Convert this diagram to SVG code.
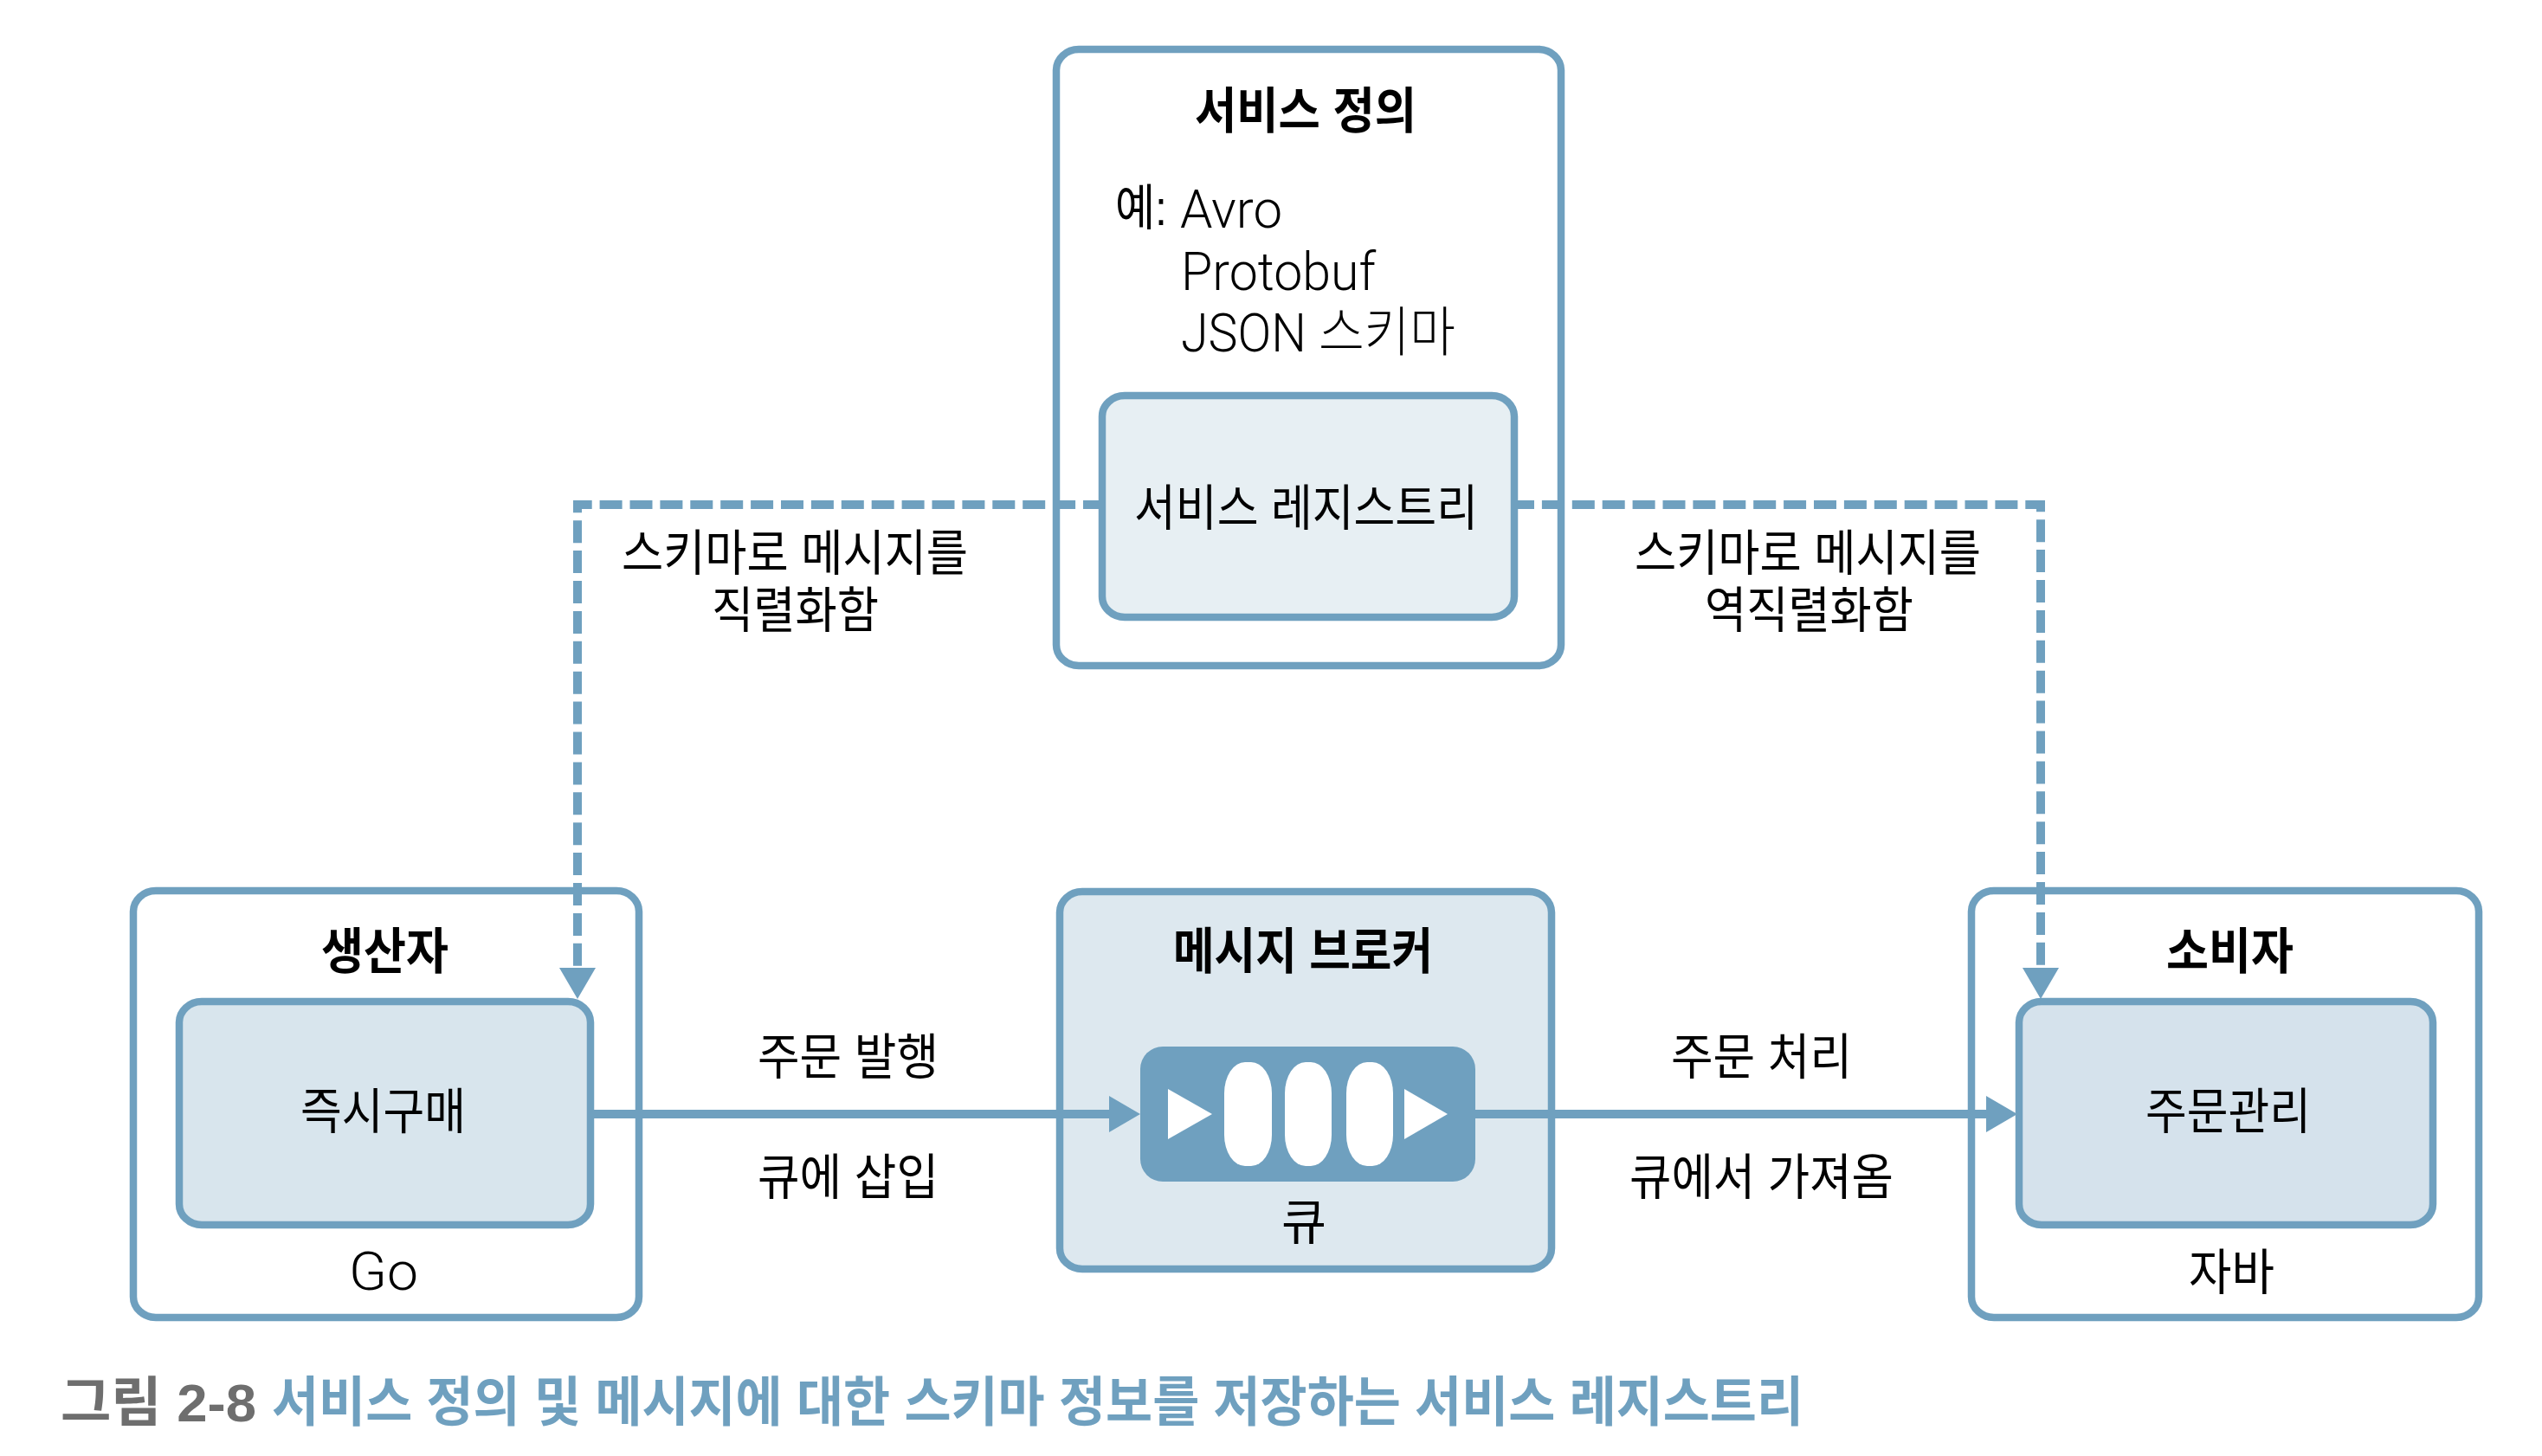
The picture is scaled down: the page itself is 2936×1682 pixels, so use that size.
<svg xmlns="http://www.w3.org/2000/svg" width="2936" height="1682" viewBox="0 0 2936 1682">
<style>
text{font-family:"Liberation Sans","Noto Sans CJK KR",sans-serif;font-size:57px;fill:#000}
.b{font-weight:700}
.lat{font-family:Roboto,"Noto Sans CJK KR",sans-serif;font-weight:300;font-size:62px}
.box{stroke:#6fa0bf;stroke-width:8.5;fill:#fff}
.line{stroke:#6fa0bf;stroke-width:10;fill:none}
.dash{stroke-dasharray:26 8.9}
</style>
<defs>
<marker id="arrow" markerUnits="userSpaceOnUse" markerWidth="44" markerHeight="44" refX="0" refY="22" orient="auto" viewBox="0 0 44 44"><path d="M0 1L36 22L0 43Z" fill="#6fa0bf"/></marker>
</defs>
<rect width="2936" height="1682" fill="#fff"/>
<g id="service-definition">
<rect class="box" x="1220" y="57" width="583" height="712" rx="26" ry="24"/>
<text class="b" x="1380" y="148" textLength="256" lengthAdjust="spacingAndGlyphs">서비스 정의</text>
<text x="1288" y="260" textLength="60" lengthAdjust="spacingAndGlyphs">예:</text>
<text class="lat" x="1363" y="263" textLength="118" lengthAdjust="spacingAndGlyphs">Avro</text>
<text class="lat" x="1364" y="335" textLength="225" lengthAdjust="spacingAndGlyphs">Protobuf</text>
<text class="lat" x="1364" y="406" textLength="317" lengthAdjust="spacingAndGlyphs">JSON 스키마</text>
</g>
<g id="service-registry">
<rect class="box" x="1273" y="457" width="476" height="256" rx="26" ry="24" style="fill:#e7eff3"/>
<text x="1310" y="607" textLength="397" lengthAdjust="spacingAndGlyphs">서비스 레지스트리</text>
</g>
<g id="producer">
<rect class="box" x="154" y="1029" width="584" height="493" rx="26" ry="24"/>
<text class="b" x="371" y="1119" textLength="147" lengthAdjust="spacingAndGlyphs">생산자</text>
<text class="lat" x="403" y="1490" textLength="80" lengthAdjust="spacingAndGlyphs">Go</text>
</g>
<g id="instant-purchase">
<rect class="box" x="207" y="1157" width="475" height="258" rx="26" ry="24" style="fill:#d8e5ed"/>
<text x="347" y="1304" textLength="191" lengthAdjust="spacingAndGlyphs">즉시구매</text>
</g>
<g id="broker">
<rect class="box" x="1224" y="1030" width="568" height="436" rx="26" ry="24" style="fill:#dde8ef"/>
<text class="b" x="1355" y="1119" textLength="300" lengthAdjust="spacingAndGlyphs">메시지 브로커</text>
<text x="1480" y="1432" textLength="52" lengthAdjust="spacingAndGlyphs">큐</text>
</g>
<g id="queue">
<rect x="1317" y="1209" width="387" height="156" rx="26" ry="26" fill="#6fa0bf"/>
<rect x="1414" y="1227" width="55" height="120" rx="24" ry="36" fill="#fff"/>
<rect x="1484" y="1227" width="54" height="120" rx="24" ry="36" fill="#fff"/>
<rect x="1555" y="1227" width="54" height="120" rx="24" ry="36" fill="#fff"/>
<path d="M1349 1258L1400 1287L1349 1316Z" fill="#fff"/>
<path d="M1622 1258L1672 1287L1622 1316Z" fill="#fff"/>
</g>
<g id="consumer">
<rect class="box" x="2277" y="1029" width="586" height="493" rx="26" ry="24"/>
<text class="b" x="2502" y="1119" textLength="147" lengthAdjust="spacingAndGlyphs">소비자</text>
<text x="2528" y="1490" textLength="99" lengthAdjust="spacingAndGlyphs">자바</text>
</g>
<g id="order-management">
<rect class="box" x="2332" y="1157" width="478" height="258" rx="26" ry="24" style="fill:#d5e2ec"/>
<text x="2478" y="1304" textLength="191" lengthAdjust="spacingAndGlyphs">주문관리</text>
</g>
<g id="connectors">
<path class="line dash" d="M1277 583H667V1118" marker-end="url(#arrow)"/>
<path class="line dash" d="M1746 583H2357V1118" marker-end="url(#arrow)"/>
<path class="line" d="M682 1287H1281" marker-end="url(#arrow)"/>
<path class="line" d="M1704 1287H2294" marker-end="url(#arrow)"/>
</g>
<g id="labels">
<text x="718" y="659" textLength="400" lengthAdjust="spacingAndGlyphs">스키마로 메시지를</text>
<text x="822" y="725" textLength="193" lengthAdjust="spacingAndGlyphs">직렬화함</text>
<text x="1888" y="659" textLength="400" lengthAdjust="spacingAndGlyphs">스키마로 메시지를</text>
<text x="1969" y="725" textLength="241" lengthAdjust="spacingAndGlyphs">역직렬화함</text>
<text x="875" y="1241" textLength="209" lengthAdjust="spacingAndGlyphs">주문 발행</text>
<text x="875" y="1380" textLength="209" lengthAdjust="spacingAndGlyphs">큐에 삽입</text>
<text x="1930" y="1241" textLength="209" lengthAdjust="spacingAndGlyphs">주문 처리</text>
<text x="1882" y="1380" textLength="305" lengthAdjust="spacingAndGlyphs">큐에서 가져옴</text>
</g>
<g id="caption">
<text class="b" x="70" y="1642" textLength="226" lengthAdjust="spacingAndGlyphs" style="font-size:62px;fill:#6e6e6e">그림 2-8</text>
<text class="b" x="314" y="1642" textLength="1769" lengthAdjust="spacingAndGlyphs" style="font-size:62px;fill:#6fa0bf">서비스 정의 및 메시지에 대한 스키마 정보를 저장하는 서비스 레지스트리</text>
</g>
</svg>
